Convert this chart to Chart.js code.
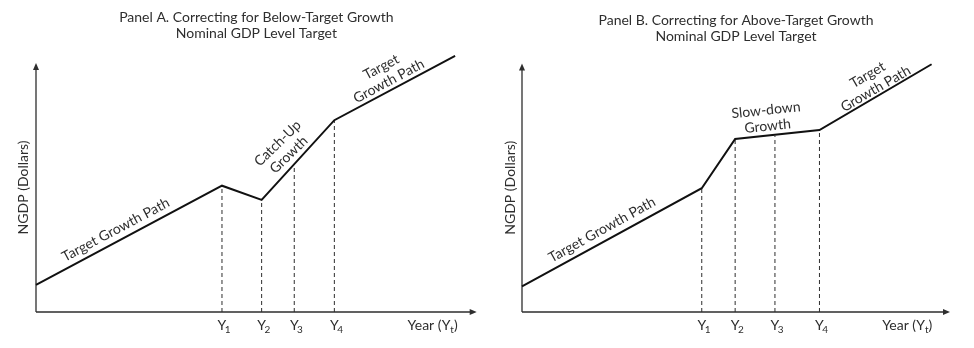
<!DOCTYPE html>
<html>
<head>
<meta charset="utf-8">
<script src="https://cdn.jsdelivr.net/npm/chart.js@4"></script>
<style>
  body { margin: 0; background: #fff; }
  .panel { display: inline-block; width: 487px; height: 348px; vertical-align: top; }
  #wrap { width: 974px; height: 348px; white-space: nowrap; font-size: 0; }
</style>
</head>
<body>
<div id="wrap">
  <div class="panel"><canvas id="panelA" width="487" height="348"></canvas></div>
  <div class="panel"><canvas id="panelB" width="487" height="348"></canvas></div>
</div>
<script>
// x runs 0..100 from the origin to the tip of the year arrow,
// y runs 0..100 from the origin to the tip of the NGDP arrow
const yearLabels = ['Y', 'Y', 'Y', 'Y'];
const yearSubs = ['1', '2', '3', '4'];

// Panel A: below-target growth, then catch-up
const aPathX = [0, 42.2, 51.2, 67.7, 95.1];
const aPathY = [10.9, 50.7, 45.0, 77.0, 102.8];
const aYearX = [42.2, 51.2, 58.6, 67.7];
const aYearY = [50.7, 45.0, 58.3, 77.0];

// Panel B: above-target growth, then slow-down
const bPathX = [0, 42.0, 49.8, 69.5, 95.7];
const bPathY = [10.3, 49.8, 69.6, 73.2, 99.7];
const bYearX = [42.0, 49.8, 59.1, 69.5];
const bYearY = [49.8, 69.6, 70.9, 73.2];

const FONT = 'Lato, "Open Sans", sans-serif';
const INK = '#2e2e2e';
const SIZE = 14;

// text with a subscript part, centred on x
function subText(ctx, parts, x, y) {
  const big = SIZE + 'px ' + FONT, small = '10px ' + FONT;
  let w = 0;
  parts.forEach(p => { ctx.font = p.sub ? small : big; w += ctx.measureText(p.t).width; });
  let cx = x - w / 2;
  ctx.textAlign = 'left';
  parts.forEach(p => {
    ctx.font = p.sub ? small : big;
    ctx.fillText(p.t, cx, p.sub ? y + 4 : y);
    cx += ctx.measureText(p.t).width;
  });
}

// arrows, rotated path notes, subscripts and the year label
const sketchPlugin = {
  id: 'sketch',
  beforeDatasetsDraw(chart) {
    const {ctx, chartArea} = chart;
    const l = chartArea.left, b = chartArea.bottom;
    ctx.save();
    ctx.strokeStyle = INK;
    ctx.fillStyle = INK;
    ctx.lineWidth = 1.3;
    ctx.beginPath();
    ctx.moveTo(l, b);
    ctx.lineTo(l, chartArea.top + 5);
    ctx.moveTo(l, b);
    ctx.lineTo(chartArea.right - 5, b);
    ctx.stroke();
    ctx.beginPath();
    ctx.moveTo(l, chartArea.top);
    ctx.lineTo(l - 3, chartArea.top + 7);
    ctx.lineTo(l + 3, chartArea.top + 7);
    ctx.closePath();
    ctx.fill();
    ctx.beginPath();
    ctx.moveTo(chartArea.right, b);
    ctx.lineTo(chartArea.right - 7, b - 3);
    ctx.lineTo(chartArea.right - 7, b + 3);
    ctx.closePath();
    ctx.fill();
    ctx.restore();
  },
  afterDatasetsDraw(chart, args, opts) {
    const {ctx} = chart;
    const xs = chart.scales.x, ys = chart.scales.y;
    ctx.save();
    ctx.fillStyle = INK;
    ctx.font = SIZE + 'px ' + FONT;
    ctx.textAlign = 'center';
    ctx.textBaseline = 'middle';
    opts.notes.forEach(n => {
      const lines = n.text.split('\n');
      ctx.save();
      ctx.translate(xs.getPixelForValue(n.x), ys.getPixelForValue(n.y));
      ctx.rotate(n.angle * Math.PI / 180);
      lines.forEach((t, i) => {
        ctx.fillText(t, 0, (i - (lines.length - 1) / 2) * 16);
      });
      ctx.restore();
    });

    // subscripts next to the Y tick labels
    const labelY = xs.top + 5 + SIZE * 0.6;
    ctx.font = SIZE + 'px ' + FONT;
    const yHalf = ctx.measureText('Y').width / 2;
    ctx.textAlign = 'left';
    ctx.font = '10px ' + FONT;
    xs.ticks.forEach((t, i) => {
      ctx.fillText(yearSubs[i], xs.getPixelForValue(t.value) + yHalf - 1.5, labelY + 4);
    });

    subText(ctx, [{t: 'Year (Y'}, {t: 't', sub: true}, {t: ')'}], xs.getPixelForValue(90), labelY);
    ctx.restore();
  }
};

function makePanel(id, title, pathX, pathY, yearX, yearY, notes, pad) {
  const datasets = [{
    data: pathX.map((x, i) => ({x: x, y: pathY[i]})),
    borderColor: '#111',
    borderWidth: 2,
    pointRadius: 0,
    clip: false
  }];
  yearX.forEach((x, i) => {
    datasets.push({
      data: [{x: x, y: 0}, {x: x, y: yearY[i]}],
      borderColor: INK,
      borderWidth: 1,
      borderDash: [4, 3],
      pointRadius: 0
    });
  });

  return new Chart(document.getElementById(id), {
    type: 'line',
    data: {datasets},
    plugins: [sketchPlugin],
    options: {
      responsive: false,
      animation: false,
      events: [],
      layout: {padding: {left: 11, right: pad.right, top: 0, bottom: 0}},
      plugins: {
        legend: {display: false},
        tooltip: {enabled: false},
        title: {
          display: true,
          fullSize: false,
          text: title,
          color: INK,
          font: {family: FONT, size: SIZE, weight: 'normal', lineHeight: 1.15},
          padding: {top: pad.titleTop, bottom: pad.titleBottom}
        },
        sketch: {notes}
      },
      scales: {
        x: {
          type: 'linear',
          min: 0,
          max: 100,
          grid: {display: false, drawTicks: false},
          border: {display: false},
          afterBuildTicks: s => { s.ticks = yearX.map(v => ({value: v})); },
          afterFit: s => { s.height = 36; },
          ticks: {
            autoSkip: false,
            maxRotation: 0,
            padding: 5,
            color: INK,
            font: {family: FONT, size: SIZE},
            callback: (v, i) => yearLabels[i]
          }
        },
        y: {
          type: 'linear',
          min: 0,
          max: 100,
          grid: {display: false, drawTicks: false},
          border: {display: false},
          ticks: {display: false},
          afterFit: s => { s.width = pad.yWidth; },
          title: {
            display: true,
            text: 'NGDP (Dollars)',
            color: INK,
            font: {family: FONT, size: SIZE},
            padding: {top: 4, bottom: 4}
          }
        }
      }
    }
  });
}

makePanel('panelA',
  ['Panel A. Correcting for Below-Target Growth', 'Nominal GDP Level Target'],
  aPathX, aPathY, aYearX, aYearY,
  [
    {text: 'Target Growth Path', x: 18.1, y: 33.0, angle: -28},
    {text: 'Catch-Up\nGrowth', x: 56.1, y: 65.4, angle: -44},
    {text: 'Target\nGrowth Path', x: 79.2, y: 95.5, angle: -28}
  ],
  {right: 10.3, yWidth: 25, titleTop: 9, titleBottom: 21.7});

makePanel('panelB',
  ['Panel B. Correcting for Above-Target Growth', 'Nominal GDP Level Target'],
  bPathX, bPathY, bYearX, bYearY,
  [
    {text: 'Target Growth Path', x: 18.7, y: 33.1, angle: -29},
    {text: 'Slow-down\nGrowth', x: 57.2, y: 78.0, angle: -6},
    {text: 'Target\nGrowth Path', x: 81.7, y: 92.6, angle: -30}
  ],
  {right: 24, yWidth: 24, titleTop: 12, titleBottom: 19.3});
</script>
</body>
</html>
